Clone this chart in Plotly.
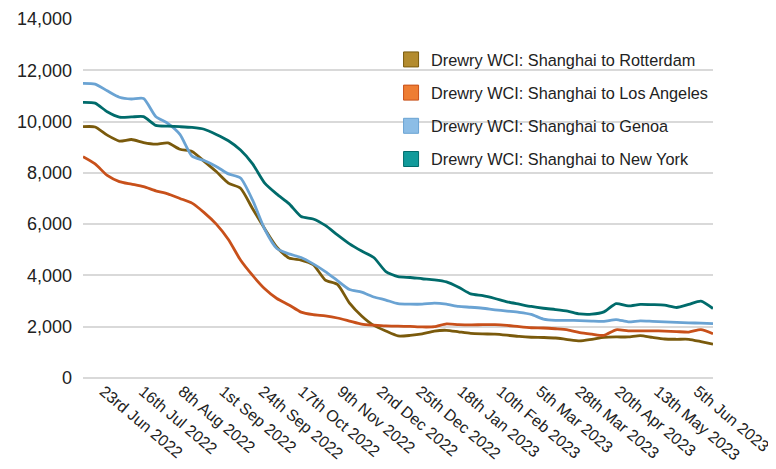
import pandas as pd
import plotly.graph_objects as go

# weekly index readings, USD per 40ft container
start, end = "2022-06-11", "2023-06-14"
weeks = pd.date_range(start, end, periods=53)

rotterdam = [9800, 9790, 9470, 9240, 9300, 9180, 9120, 9170, 8920, 8830,
             8450, 8050, 7600, 7400, 6600, 5820, 5100, 4680, 4600, 4420,
             3820, 3650, 2920, 2420, 2050, 1830, 1640, 1660, 1720, 1830,
             1860, 1800, 1740, 1720, 1710, 1670, 1620, 1590, 1580, 1560,
             1500, 1450, 1510, 1580, 1600, 1600, 1650, 1580, 1520, 1510,
             1510, 1420, 1320]
los_angeles = [8630, 8350, 7900, 7660, 7560, 7460, 7300, 7180, 7000, 6820,
               6450, 6000, 5400, 4600, 4000, 3480, 3100, 2850, 2570, 2470,
               2420, 2340, 2220, 2100, 2060, 2030, 2020, 2010, 1990, 2000,
               2110, 2080, 2070, 2080, 2080, 2050, 2000, 1960, 1950, 1920,
               1880, 1770, 1710, 1660, 1880, 1840, 1840, 1840, 1830, 1810,
               1790, 1890, 1730]
genoa = [11490, 11460, 11200, 10950, 10880, 10900, 10200, 9930, 9500, 8650,
         8480, 8250, 7960, 7800, 6935, 5800, 5050, 4840, 4700, 4450,
         4150, 3800, 3450, 3350, 3160, 3040, 2900, 2880, 2880, 2920,
         2880, 2790, 2760, 2720, 2660, 2610, 2560, 2480, 2300, 2250,
         2250, 2240, 2220, 2210, 2280, 2190, 2230, 2210, 2190, 2170,
         2150, 2140, 2120]
new_york = [10750, 10720, 10380, 10170, 10180, 10190, 9850, 9820, 9800, 9770,
            9700, 9500, 9250, 8890, 8350, 7600, 7170, 6800, 6300, 6200,
            5950, 5580, 5230, 4950, 4700, 4150, 3950, 3920, 3870, 3830,
            3750, 3540, 3280, 3210, 3100, 2970, 2880, 2790, 2720, 2670,
            2610, 2500, 2490, 2580, 2900, 2810, 2870, 2860, 2840, 2750,
            2870, 3000, 2710]

tick_dates = ["2022-06-23", "2022-07-16", "2022-08-08", "2022-09-01", "2022-09-24",
              "2022-10-17", "2022-11-09", "2022-12-02", "2022-12-25", "2023-01-18",
              "2023-02-10", "2023-03-05", "2023-03-28", "2023-04-20", "2023-05-13",
              "2023-06-05"]
tick_labels = ["23rd Jun 2022", "16th Jul 2022", "8th Aug 2022", "1st Sep 2022",
               "24th Sep 2022", "17th Oct 2022", "9th Nov 2022", "2nd Dec 2022",
               "25th Dec 2022", "18th Jan 2023", "10th Feb 2023", "5th Mar 2023",
               "28th Mar 2023", "20th Apr 2023", "13th May 2023", "5th Jun 2023"]

series = [
    ("Drewry WCI: Shanghai to Rotterdam", rotterdam, "#7a5a0c", "#b38b2e"),
    ("Drewry WCI: Shanghai to Los Angeles", los_angeles, "#c8501a", "#ee7d33"),
    ("Drewry WCI: Shanghai to Genoa", genoa, "#6aa3d3", "#8cbde6"),
    ("Drewry WCI: Shanghai to New York", new_york, "#006b6b", "#119a9a"),
]

fig = go.Figure()
for name, vals, line_col, swatch in series:
    fig.add_trace(go.Scatter(x=weeks, y=vals, mode="lines",
                             line=dict(color=line_col, width=2.8, shape="spline", smoothing=0.6),
                             showlegend=False, hoverinfo="x+y", name=name))
    # square swatch for the legend
    fig.add_trace(go.Scatter(x=[None], y=[None], mode="markers", name=name,
                             legendgroup=name,
                             marker=dict(symbol="square", size=15, color=swatch,
                                         line=dict(color=line_col, width=1))))

# page body adds an 8px margin, so the figure is 8px smaller each way
fig.update_layout(
    width=768, height=461,
    margin=dict(l=75, r=63, t=11, b=91),
    paper_bgcolor="white", plot_bgcolor="white",
    font=dict(family="Liberation Sans, Arial, sans-serif", color="#222222"),
    legend=dict(x=0.489, y=0.935, xanchor="left", yanchor="top",
                font=dict(size=16.3, color="#222222"),
                bgcolor="rgba(0,0,0,0)", tracegroupgap=9),
)
fig.update_xaxes(type="date", range=[start, end],
                 tickvals=tick_dates, ticktext=tick_labels, tickangle=40,
                 tickfont=dict(size=16), showgrid=False, showline=False, ticks="",
                 ticklabeloverflow="allow", automargin=False)
fig.update_yaxes(range=[0, 14000], dtick=2000, tickformat=",",
                 tickfont=dict(size=18), gridcolor="#d9d9d9", gridwidth=1.5,
                 zeroline=True, zerolinecolor="#d9d9d9", zerolinewidth=1.5,
                 ticks="", ticklabelstandoff=10, automargin=False)

fig.write_html("out.html")
